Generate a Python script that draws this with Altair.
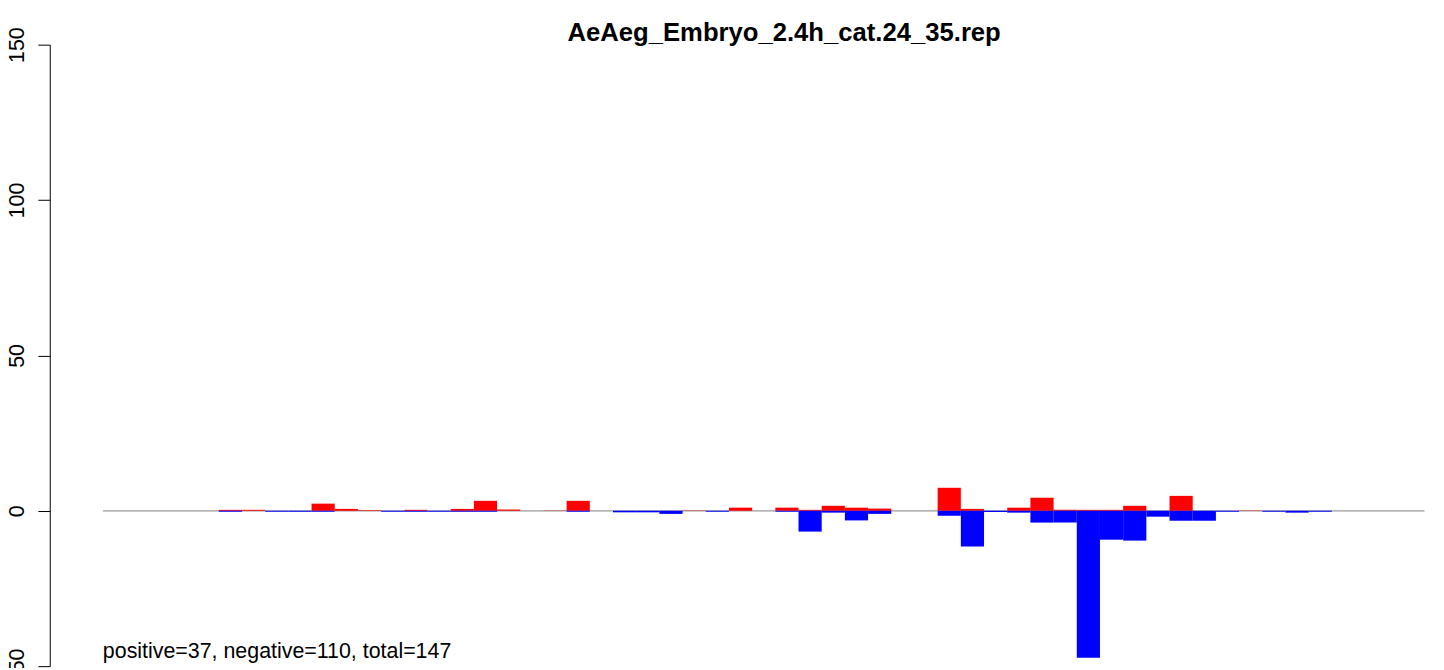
import altair as alt
import pandas as pd

# bin index (48 bins), positive (red) and negative (blue) values
bins = list(range(48))
pos_vals = [0.3, 0.3, 0, 0, 2.3, 0.6, 0.2, 0, 0.3, 0, 0.6, 3.2, 0.4, 0, 0.1, 3.2,
            0, 0, 0, 0, 0.1, 0, 1.0, 0, 1.0, 0.3, 1.6, 1.0, 0.7, 0, 0, 7.4,
            0.6, 0, 1.0, 4.2, 0.3, 0.3, 0.3, 1.6, 0, 4.8, 0, 0, 0.1, 0, 0, 0]
neg_vals = [-0.3, 0, -0.3, -0.3, -0.3, 0, 0, -0.3, -0.3, -0.3, -0.3, -0.3, 0, 0, 0, -0.3,
            0, -0.5, -0.5, -1.0, 0, -0.3, 0, 0, -0.3, -6.7, -0.6, -3.1, -1.0, 0, 0, -1.6,
            -11.5, -0.4, -0.6, -3.8, -3.8, -47.3, -9.3, -9.6, -1.9, -3.2, -3.2, -0.3, 0, -0.3, -0.6, -0.3]
y_ticks = [-50, 0, 50, 100, 150]
title_text = "AeAeg_Embryo_2.4h_cat.24_35.rep"
note_text = "positive=37, negative=110, total=147"
zero_line_span = [-5, 52]

FONT = "Liberation Sans"

rows = []
for b, p, n in zip(bins, pos_vals, neg_vals):
    if p != 0:
        rows.append({"x": b, "x2": b + 1, "y": 0, "y2": p, "sign": "pos"})
    if n != 0:
        rows.append({"x": b, "x2": b + 1, "y": 0, "y2": n, "sign": "neg"})
df = pd.DataFrame(rows)

xscale = alt.Scale(domain=[-7.29, 52.02], nice=False, zero=False)
yscale = alt.Scale(domain=[-50, 150], nice=False, zero=False)

zero_df = pd.DataFrame({"x": [zero_line_span[0]], "x2": [zero_line_span[1]], "y": [0]})
zero_line = alt.Chart(zero_df).mark_rule(color="#9a9a9a", strokeWidth=1.2).encode(
    x=alt.X("x:Q", scale=xscale, axis=None),
    x2="x2:Q",
    y=alt.Y("y:Q", scale=yscale,
            axis=alt.Axis(values=y_ticks, title=None, grid=False, domainColor="black",
                          tickColor="black", tickSize=12, labelAngle=270,
                          labelAlign="center", labelBaseline="alphabetic", labelPadding=14,
                          labelFont=FONT, labelFontSize=21.5, labelColor="black",
                          domainWidth=1, tickWidth=1)),
)

bars = alt.Chart(df).mark_rect().encode(
    x=alt.X("x:Q", scale=xscale, axis=None),
    x2="x2:Q",
    y=alt.Y("y:Q", scale=yscale),
    y2="y2:Q",
    color=alt.Color("sign:N", scale=alt.Scale(domain=["pos", "neg"], range=["#FF0000", "#0000FF"]),
                    legend=None),
)

note_df = pd.DataFrame({"x": [zero_line_span[0]], "y": [-47.4], "t": [note_text]})
note = alt.Chart(note_df).mark_text(align="left", baseline="alphabetic", font=FONT,
                                    fontSize=21.5, color="black").encode(
    x=alt.X("x:Q", scale=xscale, axis=None),
    y=alt.Y("y:Q", scale=yscale),
    text="t:N",
)

title_df = pd.DataFrame({"t": [title_text]})
title = alt.Chart(title_df).mark_text(align="center", baseline="alphabetic", font=FONT,
                                      fontSize=25.8, fontWeight="bold", color="black").encode(
    x=alt.value(738.5),
    y=alt.value(-4),
    text="t:N",
)

chart = alt.layer(zero_line, bars, note, title).properties(
    width=1383, height=625,
    autosize=alt.AutoSizeParams(type="none"),
    padding={"left": 42, "top": 35, "right": 11, "bottom": 0},
    background="white",
).configure_view(strokeWidth=0, stroke="transparent")

chart.save("out.html", embed_options={"renderer": "svg", "actions": False})
